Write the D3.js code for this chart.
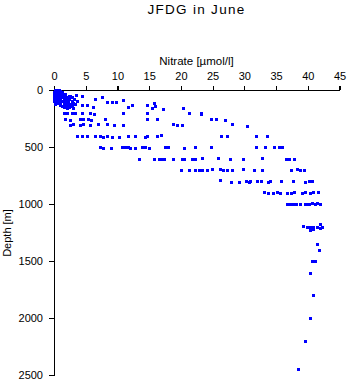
<!DOCTYPE html>
<html>
<head>
<meta charset="utf-8">
<script src="https://cdn.jsdelivr.net/npm/d3@7"></script>
<style>
  html, body { margin: 0; padding: 0; background: #fff; }
  svg { display: block; }
  text { font-family: "Liberation Sans", Arial, Helvetica, sans-serif; fill: #000; }
</style>
</head>
<body>
<svg id="chart" width="348" height="384"></svg>
<script>
// ---- Data ----
const chartTitle = "JFDG in June";
const xLabel = "Nitrate [\u00b5mol/l]";
const yLabel = "Depth [m]";
const xTicks = [0, 5, 10, 15, 20, 25, 30, 35, 40, 45];
const yTicks = [0, 500, 1000, 1500, 2000, 2500];

// Nitrate (µmol/l) and depth (m), parallel arrays, one entry per sample
const nitrate = [
  // near-surface cluster
  0.1,0.3,0.5,0.8,0.2,0.6,0.9,0.1,0.4,1.0,0.2,0.7,1.2,0.3,0.5,1.0,1.4,0.2,0.8,1.6,
  0.4,1.1,2.0,0.6,1.5,2.4,0.3,1.0,1.9,2.8,0.7,1.4,2.2,3.0,1.8,2.5,3.3,1.5,2.1,2.9,
  0.5,0.0,1.3,1.8,2.6,3.1,3.6,2.4,3.0,1.6,0.1,0.4,0.2,0.6,0.0,0.3,
  0.0,0.4,0.8,0.0,0.4,0.8,0.0,0.4,0.8,0.0,0.4,0.8,0.0,0.5,1.0,0.2,0.9,1.3,1.7,2.1,
  // ~50 m
  1.5,2.3,2.9,3.5,4.4,
  // ~75 m
  6.5,7.5,10.8,
  // ~100 m
  8.3,9.1,9.8,
  // ~125-170 m
  4.4,5.2,6.2,11.7,12.3,14.6,15.7,15.9,15.5,17.2,20.3,
  // ~200 m
  1.5,2.0,2.8,3.3,4.4,5.7,6.3,10.9,14.6,21.2,23.1,23.2,
  // ~250 m
  1.7,2.5,4.1,4.6,5.4,5.9,8.1,14.6,16.2,24.7,25.6,26.9,
  // ~300 m
  2.5,3.0,4.1,4.6,5.7,7.0,8.3,9.4,10.8,18.8,19.4,20.2,28.1,30.4,
  // 400 m
  3.7,4.4,5.2,6.5,7.3,7.7,8.3,9.1,10.2,11.7,12.8,14.4,14.7,16.2,16.8,26.3,27.2,31.9,33.5,
  // 500 m
  7.3,7.8,9.0,10.7,11.2,11.7,12.0,12.8,13.8,14.4,14.9,17.5,18.0,20.5,22.3,24.7,31.9,33.2,34.7,35.4,36.0,
  // 600 m
  13.4,15.7,16.5,16.8,17.3,18.7,20.2,20.5,21.7,22.3,23.4,25.9,27.7,29.8,32.8,36.5,37.0,37.8,
  // 700 m
  20.0,21.2,22.3,22.8,23.3,24.1,24.9,26.1,26.7,27.3,28.1,29.8,31.5,32.8,37.3,38.3,38.8,39.4,
  // 800 m
  26.1,27.9,29.1,30.2,30.7,30.9,32.0,32.7,33.7,34.1,35.8,37.7,39.5,40.2,40.7,
  // 900 m
  33.1,33.7,34.5,35.2,35.7,36.7,37.3,37.8,39.1,39.6,40.4,40.9,41.6,
  // 1000 m
  36.7,37.2,37.7,38.2,38.8,39.5,39.9,40.2,40.7,41.2,41.5,41.9,
  // 1200 m
  39.2,39.9,40.4,40.9,41.5,41.9,42.2,40.3,40.8,42.0,
  // deep
  41.5,41.7,40.7,41.2,40.4,40.9,40.3,39.5,38.5
];
const depth = [
  // near-surface cluster
  0,0,0,0,5,10,10,10,20,20,20,30,30,30,40,40,45,50,50,55,
  60,60,65,70,75,75,80,85,90,95,100,100,105,110,115,120,125,125,135,140,
  25,15,15,35,50,80,100,150,160,145,5,15,35,55,70,90,
  30,30,30,45,45,45,60,60,60,85,85,85,100,110,115,120,130,140,150,160,
  // ~50 m
  45,55,60,40,55,
  // ~75 m
  80,65,88,
  // ~100 m
  108,108,108,
  // ~125-170 m
  132,132,152,152,132,132,114,137,161,170,161,
  // ~200 m
  205,205,205,205,205,205,213,205,205,205,205,213,
  // ~250 m
  257,263,257,257,257,263,257,257,257,257,257,263,
  // ~300 m
  307,301,307,301,307,301,301,307,307,301,310,307,301,316,
  // 400 m
  403,403,403,403,403,410,403,410,410,403,403,410,403,403,395,403,403,403,403,
  // 500 m
  503,506,506,503,503,503,506,506,503,503,512,503,503,506,503,503,503,503,503,503,503,
  // 600 m
  605,608,605,605,608,605,605,605,608,608,600,600,608,608,600,608,605,608,
  // 700 m
  702,702,702,702,702,702,697,697,702,702,702,697,702,702,702,697,702,702,
  // 800 m
  790,808,805,800,805,795,800,800,805,800,795,800,805,800,800,
  // 900 m
  893,903,903,898,903,903,903,893,903,898,903,898,893,
  // 1000 m
  1000,1000,1000,1000,1000,1000,1000,1000,995,1000,995,1000,
  // 1200 m
  1193,1199,1199,1199,1199,1175,1199,1228,1222,1213,
  // deep
  1353,1403,1500,1500,1602,1801,2003,2204,2449
];

// ---- Layout ----
const svg = d3.select("#chart");
const x = d3.scaleLinear().domain([0, 45]).range([54, 339.5]);
const y = d3.scaleLinear().domain([0, 2500]).range([90, 375]);

const points = nitrate.map((n, i) => ({ n, d: depth[i] }));

// Title
svg.append("text")
  .attr("x", 196.5).attr("y", 13.5)
  .attr("text-anchor", "middle")
  .style("font-size", "13.5px")
  .style("letter-spacing", "1.3px")
  .text(chartTitle);

// X axis on top
const xAxis = svg.append("g")
  .attr("transform", "translate(0,90)")
  .call(d3.axisTop(x).tickValues(xTicks).tickFormat(d3.format("d")).tickSize(4).tickPadding(6).tickSizeOuter(0));
xAxis.selectAll("text").style("font-size", "11px").style("font-family", "'Liberation Sans', Arial, sans-serif");

svg.append("text")
  .attr("x", 196.5).attr("y", 64.5)
  .attr("text-anchor", "middle")
  .style("font-size", "11.5px")
  .text(xLabel);

// Y axis on left
const yAxis = svg.append("g")
  .attr("transform", "translate(54,0)")
  .call(d3.axisLeft(y).tickValues(yTicks).tickFormat(d3.format("d")).tickSize(5).tickPadding(6).tickSizeOuter(0));
yAxis.selectAll("text").style("font-size", "11px").style("font-family", "'Liberation Sans', Arial, sans-serif");

svg.selectAll(".domain, .tick line").attr("stroke", "#000").attr("stroke-width", 1.2).attr("shape-rendering", "crispEdges");

svg.append("text")
  .attr("transform", "translate(10.5,233) rotate(-90)")
  .attr("text-anchor", "middle")
  .style("font-size", "11px")
  .text(yLabel);

// Points
svg.append("g")
  .selectAll("rect")
  .data(points)
  .join("rect")
  .attr("x", d => Math.round(x(d.n)) - 1.5)
  .attr("y", d => Math.round(y(d.d)) - 1.5)
  .attr("width", 3)
  .attr("height", 3)
  .attr("fill", "#0000ff")
  .attr("shape-rendering", "crispEdges");
</script>
</body>
</html>
